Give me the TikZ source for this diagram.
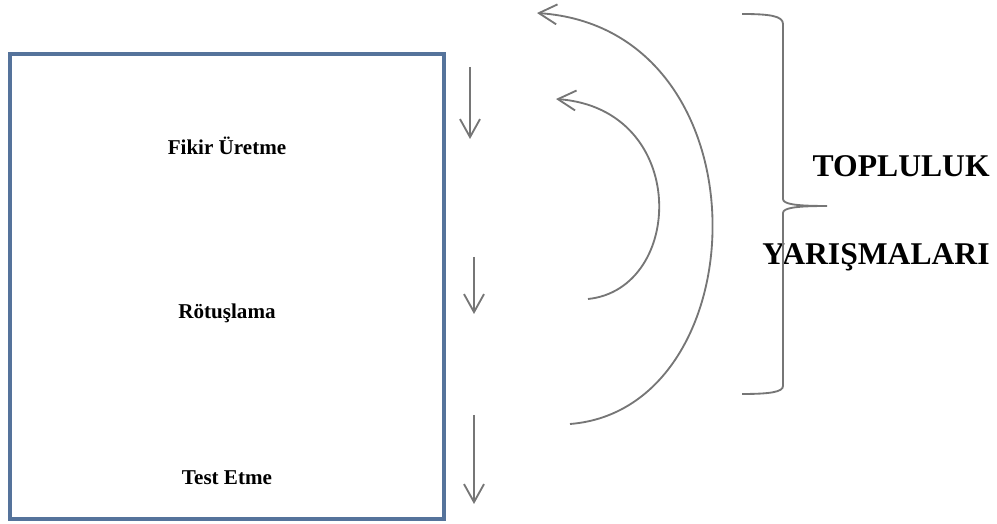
\documentclass[tikz,border=0pt]{standalone}
\usepackage{fontspec}
\setmainfont{Liberation Serif}
\usetikzlibrary{arrows.meta}
\definecolor{frameblue}{RGB}{85,115,155}
\definecolor{arrgray}{RGB}{118,118,118}

\begin{document}
\begin{tikzpicture}[
    stage/.style={font=\bfseries\fontsize{12}{14}\selectfont, inner sep=0, anchor=base},
    title/.style={font=\bfseries\fontsize{18}{21}\selectfont, inner sep=0, anchor=base east},
    flow/.style={draw=arrgray, line width=1.05pt, -{Straight Barb[length=3.6mm,width=4mm]}},
    brace/.style={draw=arrgray, line width=1.05pt}]
    \useasboundingbox (0,0) rectangle (19.94,10.48);

    \node (frame) at (4.54,4.75) [draw=frameblue, line width=2.25pt, minimum width=8.68cm, minimum height=9.30cm] {};

    \node[stage] (idea) at (4.54,7.38) {Fikir Üretme};
    \node[stage] (retouch) at (4.54,4.10) {Rötuşlama};
    \node[stage] (test) at (4.54,0.78) {Test Etme};

    \node[title] (comm) at (19.80,6.94) {TOPLULUK};
    \node[title] (contest) at (19.80,5.18) {YARIŞMALARI};

    \coordinate (d1) at (9.40,9.14);
    \coordinate (e1) at (9.40,7.70);
    \coordinate (d2) at (9.48,5.34);
    \coordinate (e2) at (9.48,4.20);
    \coordinate (d3) at (9.48,2.18);
    \coordinate (e3) at (9.48,0.40);

    \coordinate (big0) at (11.40,2.00);
    \coordinate (big1) at (10.74,10.22);
    \coordinate (small0) at (11.76,4.50);
    \coordinate (small1) at (11.12,8.50);

    \coordinate (btop) at (14.84,10.20);
    \coordinate (bbot) at (14.84,2.60);
    \coordinate (btip) at (16.54,6.36);

    \draw [flow] (d1) -- (e1);
    \draw [flow] (d2) -- (e2);
    \draw [flow] (d3) -- (e3);

    \draw [flow] (big0) .. controls (15.20,2.30) and (15.40,9.90) .. (big1);
    \draw [flow] (small0) .. controls (13.70,4.70) and (13.80,8.30) .. (small1);

    \draw [brace] (btop) .. controls (15.40,10.20) and (15.66,10.16) .. (15.66,10.00)
        -- (15.66,6.50) .. controls (15.66,6.40) and (15.90,6.36) .. (btip)
        .. controls (15.90,6.36) and (15.66,6.32) .. (15.66,6.22)
        -- (15.66,2.76) .. controls (15.66,2.64) and (15.40,2.60) .. (bbot);
\end{tikzpicture}
\end{document}
